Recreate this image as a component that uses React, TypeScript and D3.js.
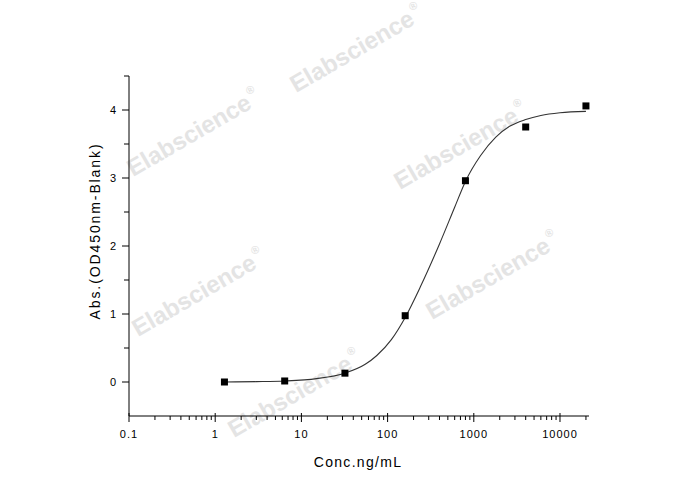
import React from "react";
import * as d3 from "d3";

// Measured points (concentration ng/mL, OD450 - blank)
const concentrations = [1.28, 6.4, 32, 160, 800, 4000, 20000];
const absorbances = [0.0, 0.015, 0.13, 0.975, 2.96, 3.75, 4.06];

// Fitted curve
const curveConc = [1.28, 3, 6.4, 15, 32, 55, 75, 110, 160, 240, 400, 600, 800, 1200, 1800, 2600, 4000, 6000, 10000, 20000];
const curveAbs = [0.0, 0.005, 0.015, 0.05, 0.13, 0.26, 0.39, 0.62, 0.95, 1.4, 2.03, 2.57, 2.95, 3.33, 3.6, 3.76, 3.86, 3.92, 3.96, 3.98];

const xTickValues = [0.1, 1, 10, 100, 1000, 10000];
const xTickLabels = ["0.1", "1", "10", "100", "1000", "10000"];
const yTickValues = [0, 1, 2, 3, 4];
const yTickLabels = ["0", "1", "2", "3", "4"];

const xTitle = "Conc.ng/mL";
const yTitle = "Abs.(OD450nm-Blank)";
const watermark = "Elabscience";
const watermarkAnchors: [number, number][] = [
  [296, 93],
  [133, 177],
  [400, 190],
  [138, 337],
  [432, 320],
  [234, 438],
];

const W = 688;
const H = 490;
const FONT = "'Liberation Sans', Arial, sans-serif";

export default function App() {
  const x = d3.scaleLog().domain([0.1, 21700]).range([129, 589]);
  const y = d3.scaleLinear().domain([-0.5, 4.5]).range([416, 76]);

  const minorX: number[] = [];
  for (let d = 0.1; d < 30000; d *= 10) {
    for (let k = 2; k <= 9; k++) {
      const v = d * k;
      if (v <= 21700) minorX.push(v);
    }
  }
  const minorY = d3.range(-0.5, 4.51, 0.5).filter((v) => Math.abs(v - Math.round(v)) > 0.01 && v > -0.4);

  const line = d3
    .line<number>()
    .x((_, i) => x(curveConc[i]))
    .y((_, i) => y(curveAbs[i]))
    .curve(d3.curveMonotoneX);

  return (
    <div style={{ position: "fixed", left: 0, top: 0 }}>
      <svg width={W} height={H} style={{ display: "block", background: "#fff" }}>
        <rect x={0} y={0} width={W} height={H} fill="#fff" />
        {watermarkAnchors.map(([wx, wy], i) => (
          <text
            key={i}
            transform={`translate(${wx},${wy}) rotate(-30)`}
            fontFamily={FONT}
            fontWeight="bold"
            fontSize={24}
            fill="#e4e4e4"
          >
            {watermark}
            <tspan fontSize={11} dy={-13} dx={2}>®</tspan>
          </text>
        ))}

        {/* Y axis */}
        <line x1={129} x2={129} y1={y(4.5)} y2={y(-0.5)} stroke="#000" strokeWidth={1} />
        {yTickValues.map((v, i) => (
          <g key={"yt" + i}>
            <line x1={122} x2={129} y1={y(v)} y2={y(v)} stroke="#000" />
            <text x={116} y={y(v) + 4} textAnchor="end" fontFamily={FONT} fontSize={11} fill="#000">
              {yTickLabels[i]}
            </text>
          </g>
        ))}
        {minorY.map((v, i) => (
          <line key={"ym" + i} x1={124} x2={129} y1={y(v)} y2={y(v)} stroke="#000" />
        ))}

        {/* X axis */}
        <line x1={129} x2={589} y1={416} y2={416} stroke="#000" strokeWidth={1} />
        {xTickValues.map((v, i) => (
          <g key={"xt" + i}>
            <line x1={x(v)} x2={x(v)} y1={413} y2={422} stroke="#000" />
            <text
              x={x(v)}
              y={438}
              textAnchor="middle"
              fontFamily={FONT}
              fontSize={11}
              letterSpacing={1}
              fill="#000"
            >
              {xTickLabels[i]}
            </text>
          </g>
        ))}
        {minorX.map((v, i) => (
          <line key={"xm" + i} x1={x(v)} x2={x(v)} y1={416} y2={420} stroke="#000" />
        ))}

        {/* Titles */}
        <text x={358} y={467} textAnchor="middle" fontFamily={FONT} fontSize={14} letterSpacing={1.3} fill="#000">
          {xTitle}
        </text>
        <text
          transform="translate(100,231) rotate(-90)"
          textAnchor="middle"
          fontFamily={FONT}
          fontSize={14}
          letterSpacing={1.9}
          fill="#000"
        >
          {yTitle}
        </text>

        {/* Fitted curve */}
        <path d={line(curveConc) || ""} fill="none" stroke="#333" strokeWidth={1.1} />

        {/* Data points */}
        {concentrations.map((c, i) => (
          <rect key={"p" + i} x={x(c) - 3.5} y={y(absorbances[i]) - 3.5} width={7} height={7} fill="#000" />
        ))}
      </svg>
    </div>
  );
}
